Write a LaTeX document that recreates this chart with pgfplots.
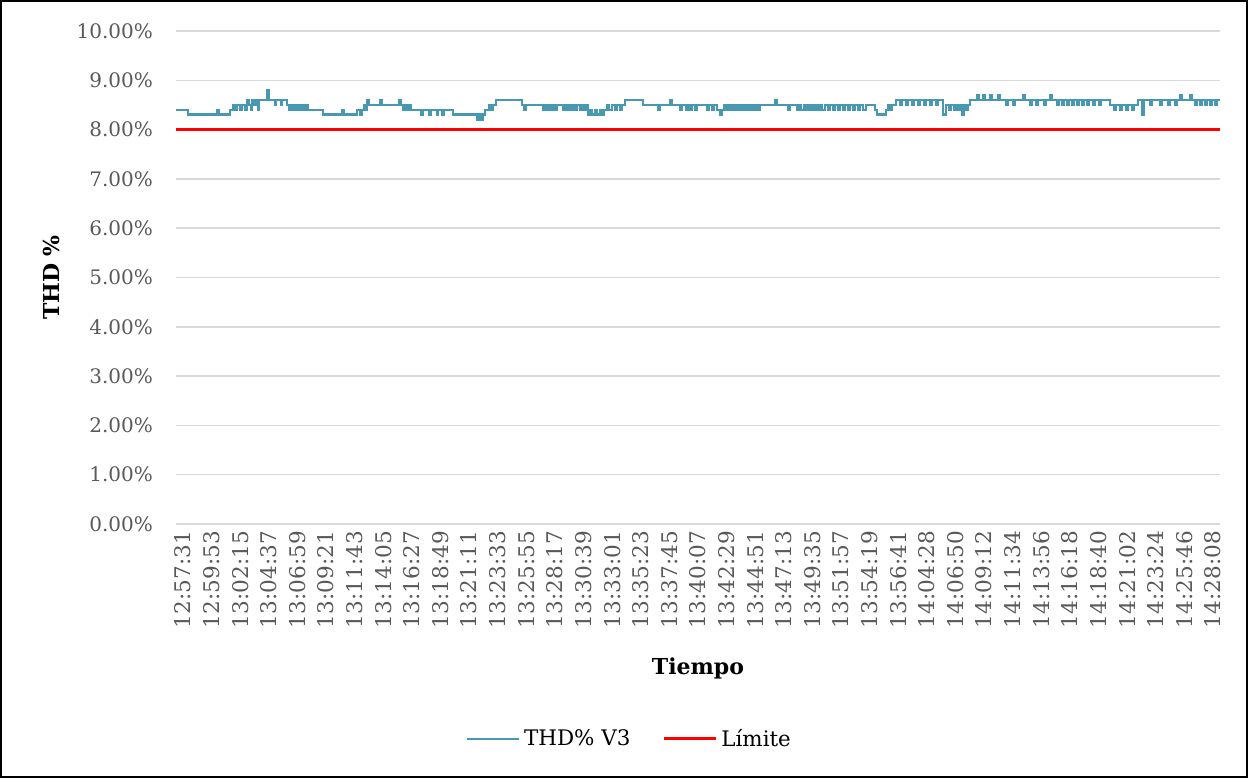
\documentclass[border=0pt]{standalone}
\usepackage{fontspec}
\setmainfont{DejaVu Serif}
\usepackage{pgfplots}
\pgfplotsset{compat=1.18}
\definecolor{thdblue}{RGB}{72,152,178}
\definecolor{ticktext}{RGB}{89,89,89}
\definecolor{gridgray}{RGB}{217,217,217}
\begin{document}
\begin{tikzpicture}
\useasboundingbox (0,0) rectangle (624pt,389pt);
\draw[line width=0.75pt] (0.5pt,0.5pt) rectangle (623.5pt,388.5pt);
\begin{axis}[
  at={(88pt,127pt)}, anchor=south west,
  scale only axis, width=522pt, height=246.5pt,
  xmin=176, xmax=1220, ymin=0, ymax=10,
  axis line style={draw=none},
  major tick length=0pt,
  ymajorgrids, grid style={gridgray, line width=0.75pt},
  ytick={0,1,2,3,4,5,6,7,8,9,10},
  yticklabels={0.00\%,1.00\%,2.00\%,3.00\%,4.00\%,5.00\%,6.00\%,7.00\%,8.00\%,9.00\%,10.00\%},
  xtick={177,205.61,...,1210},
  xticklabels={12:57:31,12:59:53,13:02:15,13:04:37,13:06:59,13:09:21,13:11:43,13:14:05,13:16:27,13:18:49,13:21:11,13:23:33,13:25:55,13:28:17,13:30:39,13:33:01,13:35:23,13:37:45,13:40:07,13:42:29,13:44:51,13:47:13,13:49:35,13:51:57,13:54:19,13:56:41,14:04:28,14:06:50,14:09:12,14:11:34,14:13:56,14:16:18,14:18:40,14:21:02,14:23:24,14:25:46,14:28:08},
  every tick label/.append style={font=\fontsize{10}{12}\selectfont, text=ticktext},
  yticklabel style={xshift=-8pt},
  xticklabel style={rotate=90, anchor=east, yshift=-3pt, font=\fontsize{10.8}{12}\selectfont},
  xlabel={Tiempo}, ylabel={THD \%},
  xlabel style={at={(axis description cs:0.5,-0.292)}, anchor=center, font=\bfseries\fontsize{11}{13}\selectfont},
  ylabel style={at={(axis description cs:-0.119,0.5)}, anchor=center, font=\bfseries\fontsize{11}{13}\selectfont},
  legend style={at={(0.435,-0.436)}, anchor=center, draw=none, fill=none, legend columns=2, font=\fontsize{10.7}{12}\selectfont, /tikz/every even column/.append style={column sep=14pt}},
  legend image code/.code={\draw[#1] (0pt,0pt) -- (26pt,0pt);},
]
\addplot[const plot, thdblue, line width=1.35pt] coordinates {
(176,8.4)(188,8.3)(217,8.4)(219,8.3)
(230,8.4)(233,8.5)(235,8.4)(237,8.5)(240,8.4)(242,8.5)(245,8.4)(247,8.6)(249,8.5)(251,8.4)(252,8.6)(254,8.5)(256,8.6)(258,8.4)(259,8.6)
(267,8.8)(269,8.6)(275,8.5)(276,8.6)(281,8.5)(282,8.6)
(287,8.5)(289,8.4)(291,8.5)(293,8.4)(295,8.5)(297,8.4)(299,8.5)(301,8.4)(303,8.5)(305,8.4)(307,8.5)(308,8.4)
(323,8.3)(342,8.4)(344,8.3)
(357,8.4)(360,8.3)(362,8.4)(364,8.5)(366,8.4)(367,8.6)(369,8.5)
(380,8.6)(382,8.5)
(399,8.6)(401,8.5)(403,8.4)(405,8.5)(407,8.4)(409,8.5)(411,8.4)
(421,8.3)(423,8.4)(429,8.3)(431,8.4)(437,8.3)(438,8.4)(442,8.3)(444,8.4)
(453,8.3)
(477,8.2)(479,8.3)(481,8.2)(483,8.3)(485,8.4)(489,8.5)(491,8.4)(493,8.5)(496,8.6)
(522,8.5)(524,8.4)(526,8.5)
(543,8.4)(545,8.5)(547,8.4)(549,8.5)(551,8.4)(553,8.5)(555,8.4)(557,8.5)
(563,8.4)(565,8.5)(567,8.4)(569,8.5)(571,8.4)(573,8.5)(575,8.4)(577,8.5)
(580,8.4)(582,8.5)(584,8.4)(586,8.5)
(588,8.3)(590,8.4)(592,8.3)(595,8.4)(597,8.3)(600,8.4)(602,8.3)
(604,8.4)(607,8.5)(609,8.4)(612,8.5)(615,8.4)(617,8.5)(620,8.4)(622,8.5)
(625,8.6)
(643,8.5)(658,8.4)(660,8.5)(670,8.6)(672,8.5)
(680,8.4)(682,8.5)(686,8.4)(688,8.5)(690,8.4)(692,8.5)(695,8.4)(697,8.5)
(707,8.4)(709,8.5)(712,8.4)(714,8.5)(717,8.4)(720,8.3)(722,8.4)(724,8.5)(726,8.4)(728,8.5)(730,8.4)(732,8.5)(734,8.4)(736,8.5)(738,8.4)(740,8.5)(742,8.4)(744,8.5)(746,8.4)(748,8.5)(750,8.4)(752,8.5)(754,8.4)(756,8.5)(758,8.4)(760,8.5)
(775,8.6)(777,8.5)
(788,8.4)(790,8.5)
(797,8.4)(799,8.5)(801,8.4)(804,8.5)(806,8.4)(808,8.5)(810,8.4)(812,8.5)(814,8.4)(816,8.5)(818,8.4)(820,8.5)(822,8.4)(825,8.5)(828,8.4)(830,8.5)(833,8.4)(835,8.5)(838,8.4)(840,8.5)(843,8.4)(845,8.5)(848,8.4)(850,8.5)(853,8.4)(855,8.5)(858,8.4)(860,8.5)(863,8.4)(866,8.5)
(875,8.4)(877,8.3)(886,8.4)(888,8.5)(890,8.4)(892,8.5)
(896,8.6)(900,8.5)(902,8.6)(906,8.5)(908,8.6)(912,8.5)(914,8.6)(918,8.5)(920,8.6)(924,8.5)(926,8.6)(930,8.5)(932,8.6)(936,8.5)(938,8.6)
(943,8.3)(946,8.5)(949,8.4)(951,8.5)(954,8.4)(956,8.5)(958,8.4)(960,8.5)(962,8.3)(964,8.5)(966,8.4)(968,8.5)
(970,8.6)(977,8.7)(979,8.6)(983,8.7)(985,8.6)(990,8.7)(992,8.6)(998,8.7)(1000,8.6)
(1006,8.5)(1008,8.6)(1013,8.5)(1015,8.6)(1023,8.7)(1025,8.6)(1030,8.5)(1032,8.6)(1036,8.5)(1038,8.6)(1044,8.5)(1046,8.6)(1050,8.7)(1052,8.6)
(1057,8.5)(1059,8.6)(1062,8.5)(1064,8.6)(1067,8.5)(1069,8.6)(1072,8.5)(1074,8.6)(1077,8.5)(1079,8.6)(1082,8.5)(1084,8.6)(1087,8.5)(1089,8.6)(1093,8.5)(1095,8.6)(1099,8.5)(1101,8.6)
(1110,8.5)(1114,8.4)(1116,8.5)(1120,8.4)(1122,8.5)(1126,8.4)(1128,8.5)(1132,8.4)(1134,8.5)
(1138,8.6)(1142,8.3)(1144,8.6)(1150,8.5)(1152,8.6)(1160,8.5)(1162,8.6)(1168,8.5)(1170,8.6)(1175,8.5)(1177,8.6)(1180,8.7)(1182,8.6)(1190,8.7)(1192,8.6)
(1195,8.5)(1197,8.6)(1200,8.5)(1202,8.6)(1205,8.5)(1207,8.6)(1210,8.5)(1212,8.6)(1215,8.5)(1217,8.6)(1220,8.6)
};
\addlegendentry{THD\% V3}
\addplot[red, line width=1.5pt] coordinates {(176,8) (1220,8)};
\addlegendentry{Límite}
\end{axis}
\end{tikzpicture}
\end{document}
